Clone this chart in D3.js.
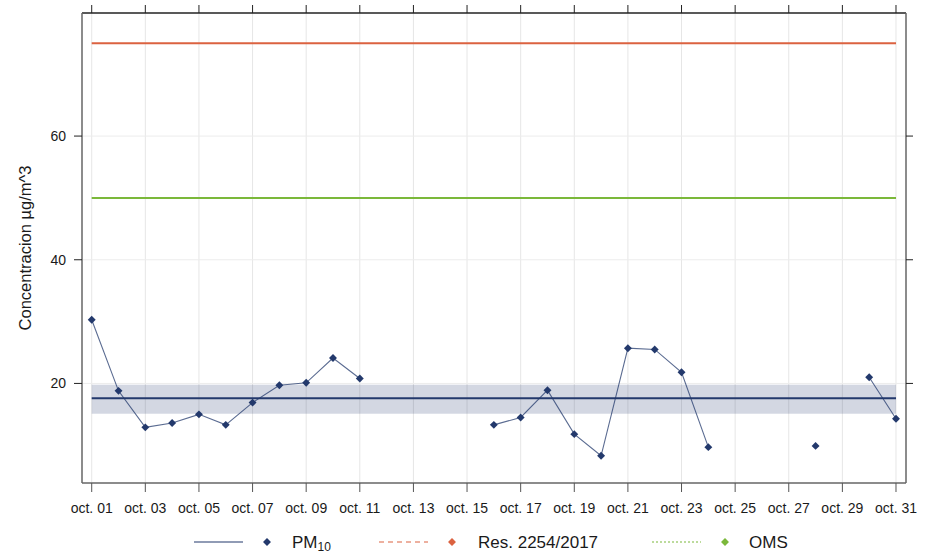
<!DOCTYPE html>
<html><head><meta charset="utf-8">
<script src="https://cdn.jsdelivr.net/npm/d3@7"></script>
<style>body{margin:0;background:#fff}svg{display:block;font-family:"Liberation Sans",Arial,sans-serif}</style>
</head><body><div id="chart"></div>
<script>
const days = d3.range(1, 32);
const pm10 = [30.3, 18.8, 12.9, 13.6, 15.0, 13.3, 16.9, 19.7, 20.1, 24.1, 20.8,
  null, null, null, null,
  13.3, 14.5, 18.9, 11.8, 8.3, 25.7, 25.5, 21.8, 9.7,
  null, null, null, 9.9, null, 21.0, 14.3];
const meanValue = 17.6;
const bandLow = 15.1, bandHigh = 19.8;
const resLimit = 75;
const omsLimit = 50;
const yTicks = [20, 40, 60];
const xTicks = d3.range(1, 32, 2);
const xTickLabels = xTicks.map(d => "oct. " + String(d).padStart(2, "0"));
const legendLabels = ["PM", "Res. 2254/2017", "OMS"];

const W = 934, H = 554;
const L = 82, R = 906, T = 13, B = 483;
const navy = "#23396c", red = "#db6240", green = "#7bb83a";

const svg = d3.select("#chart").append("svg").attr("width", W).attr("height", H);
const x = d3.scaleLinear().domain([0.638, 31.373]).range([L, R]);
const y = d3.scaleLinear().domain([3.9, 79.9]).range([B, T]);

// grid
svg.append("g").selectAll("line").data(xTicks).join("line")
  .attr("x1", d => x(d)).attr("x2", d => x(d)).attr("y1", T).attr("y2", B)
  .attr("stroke", "#e6e6e6").attr("stroke-width", 1);
svg.append("g").selectAll("line").data(yTicks).join("line")
  .attr("x1", L).attr("x2", R).attr("y1", d => y(d)).attr("y2", d => y(d))
  .attr("stroke", "#ececec").attr("stroke-width", 1);

// band & mean
svg.append("rect").attr("x", x(1)).attr("width", x(31) - x(1))
  .attr("y", y(bandHigh)).attr("height", y(bandLow) - y(bandHigh))
  .attr("fill", navy).attr("fill-opacity", 0.2);
svg.append("line").attr("x1", x(1)).attr("x2", x(31)).attr("y1", y(meanValue)).attr("y2", y(meanValue))
  .attr("stroke", navy).attr("stroke-width", 2);

// limit lines
svg.append("line").attr("x1", x(1)).attr("x2", x(31)).attr("y1", y(resLimit)).attr("y2", y(resLimit))
  .attr("stroke", red).attr("stroke-width", 2);
svg.append("line").attr("x1", x(1)).attr("x2", x(31)).attr("y1", y(omsLimit)).attr("y2", y(omsLimit))
  .attr("stroke", green).attr("stroke-width", 2);

// data line
const data = days.map((d, i) => ({d, v: pm10[i]}));
svg.append("path").datum(data)
  .attr("d", d3.line().defined(p => p.v != null).x(p => x(p.d)).y(p => y(p.v)))
  .attr("fill", "none").attr("stroke", navy).attr("stroke-opacity", 0.75).attr("stroke-width", 1.1);
const diamond = d3.symbol().type(d3.symbolDiamond2).size(40);
svg.append("g").selectAll("path").data(data.filter(p => p.v != null)).join("path")
  .attr("transform", p => `translate(${x(p.d)},${y(p.v)})`)
  .attr("d", diamond).attr("fill", navy);

// frame
svg.append("line").attr("x1", L).attr("x2", R).attr("y1", T).attr("y2", T).attr("stroke", "#222").attr("stroke-width", 1.3);
svg.append("line").attr("x1", L).attr("x2", R).attr("y1", B).attr("y2", B).attr("stroke", "#666").attr("stroke-width", 1.5);
svg.append("line").attr("x1", L).attr("x2", L).attr("y1", T).attr("y2", B).attr("stroke", "#666").attr("stroke-width", 1.5);
svg.append("line").attr("x1", R).attr("x2", R).attr("y1", T).attr("y2", B).attr("stroke", "#666").attr("stroke-width", 1.5);

// ticks
svg.append("g").selectAll("line").data(xTicks).join("line")
  .attr("x1", d => x(d)).attr("x2", d => x(d)).attr("y1", B).attr("y2", B + 9).attr("stroke", "#555");
svg.append("g").selectAll("line").data(xTicks).join("line")
  .attr("x1", d => x(d)).attr("x2", d => x(d)).attr("y1", T).attr("y2", T - 8).attr("stroke", "#222");
svg.append("g").selectAll("line").data(yTicks).join("line")
  .attr("x1", L - 8).attr("x2", L).attr("y1", d => y(d)).attr("y2", d => y(d)).attr("stroke", "#222");
svg.append("g").selectAll("line").data(yTicks).join("line")
  .attr("x1", R).attr("x2", R + 7).attr("y1", d => y(d)).attr("y2", d => y(d)).attr("stroke", "#222");

// tick labels
svg.append("g").selectAll("text").data(xTicks).join("text")
  .attr("x", d => x(d)).attr("y", 513).attr("text-anchor", "middle")
  .attr("font-size", 14).attr("fill", "#1a1a1a").text((d, i) => xTickLabels[i]);
svg.append("g").selectAll("text").data(yTicks).join("text")
  .attr("x", 66).attr("y", d => y(d) + 5).attr("text-anchor", "end")
  .attr("font-size", 14).attr("fill", "#1a1a1a").text(d => d);

// y label
svg.append("text").attr("transform", "translate(31,248) rotate(-90)")
  .attr("text-anchor", "middle").attr("font-size", 16.5).attr("fill", "#1a1a1a")
  .text("Concentracion µg/m^3");

// legend
const ly = 542;
const lg = svg.append("g");
const legendItems = [
  {x0: 194, color: navy, dash: null, textX: 292},
  {x0: 379, color: red, dash: "5,4", textX: 478},
  {x0: 652, color: green, dash: "2,2", textX: 749}
];
legendItems.forEach((it, i) => {
  lg.append("line").attr("x1", it.x0).attr("x2", it.x0 + 49).attr("y1", ly).attr("y2", ly)
    .attr("stroke", it.color).attr("stroke-width", 1.2).attr("stroke-dasharray", it.dash);
  lg.append("path").attr("transform", `translate(${it.x0 + 73},${ly})`).attr("d", diamond).attr("fill", it.color);
  const t = lg.append("text").attr("x", it.textX).attr("y", ly + 6).attr("font-size", 17).attr("fill", "#1a1a1a");
  t.append("tspan").text(legendLabels[i]);
  if (i === 0) t.append("tspan").attr("font-size", 12).attr("dy", 3).text("10");
});
</script>
</body></html>
